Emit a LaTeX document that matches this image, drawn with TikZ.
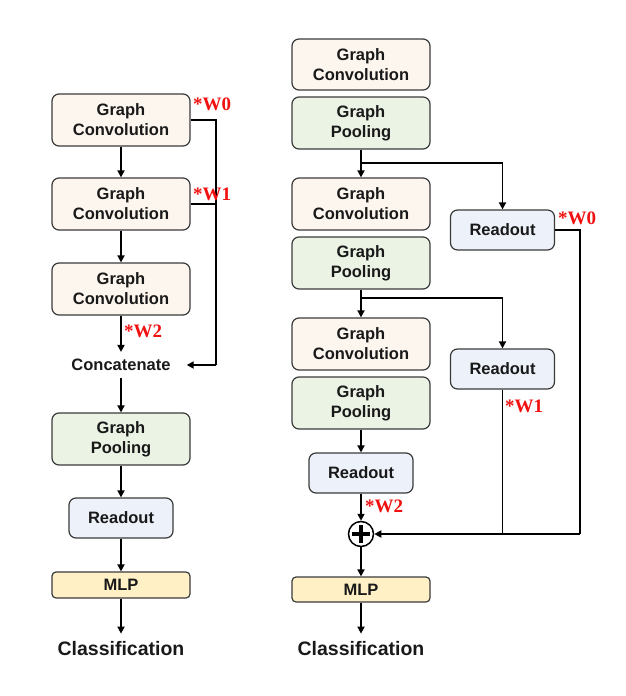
\documentclass[tikz,border=0pt]{standalone}
\usepackage{fontspec}
\setmainfont{Liberation Sans}
\newfontfamily\wfont{Liberation Serif}
\usetikzlibrary{arrows.meta}
\definecolor{convfill}{HTML}{FDF6EF}
\definecolor{poolfill}{HTML}{EBF3E5}
\definecolor{readfill}{HTML}{EDF2FA}
\definecolor{mlpfill}{HTML}{FFF0C6}
\definecolor{edge}{HTML}{3A3A3A}
\definecolor{wred}{HTML}{F01010}
\tikzset{
  blk/.style={draw=edge, line width=1.2pt, rounded corners=7pt, align=center,
    inner sep=0pt, minimum width=138pt, minimum height=52pt,
    font=\bfseries\fontsize{16.5}{20}\selectfont, text=black!90},
  conv/.style={blk, fill=convfill},
  pool/.style={blk, fill=poolfill},
  readbox/.style={blk, fill=readfill, minimum width=104pt, minimum height=40pt},
  mlpbox/.style={blk, fill=mlpfill, minimum height=26pt, rounded corners=4pt},
  plain/.style={font=\bfseries\fontsize{16.5}{20}\selectfont, text=black!90},
  cls/.style={font=\bfseries\fontsize{19.5}{22}\selectfont, text=black!90},
  wlab/.style={font=\wfont\bfseries\fontsize{19}{22}\selectfont, text=wred, anchor=west, inner sep=0pt},
  arr/.style={-{Triangle[length=7pt,width=7pt]}, line width=1.7pt},
  ln/.style={line width=1.7pt},
  sumnode/.style={circle, draw=black, line width=1.5pt, fill=white, minimum size=25pt, inner sep=0pt}
}
\begin{document}
\begin{tikzpicture}[x=1pt,y=-1pt]
\useasboundingbox (0,0) rectangle (626,696);

% ---------- concatenation model ----------
\node[conv] (lc1) at (121,120) {Graph\\Convolution};
\node[conv] (lc2) at (121,204) {Graph\\Convolution};
\node[conv] (lc3) at (121,289) {Graph\\Convolution};
\node[plain, inner xsep=16pt, inner ysep=7pt] (cat) at (121,365) {Concatenate};
\node[pool] (lp) at (121,439) {Graph\\Pooling};
\node[readbox] (lr) at (121,518) {Readout};
\node[mlpbox] (lm) at (121,585) {MLP};
\node[cls, inner ysep=8pt] (lcls) at (121,649) {Classification};
\coordinate (lj0) at (216,120);
\coordinate (lj1) at (216,204);
\coordinate (lj2) at (216,365);

\draw[arr] (lc1) -- (lc2);
\draw[arr] (lc2) -- (lc3);
\draw[arr] (lc3) -- (cat);
\draw[arr] (cat) -- (lp);
\draw[arr] (lp) -- (lr);
\draw[arr] (lr) -- (lm);
\draw[arr] (lm) -- (lcls);
\draw[ln] (lc1.east) -- (lj0) -- (lj2);
\draw[ln] (lc2.east) -- (lj1);
\draw[arr] (lj2) -- (cat.east);

\node[wlab] at (193,104) {*W0};
\node[wlab] at (193,194) {*W1};
\node[wlab] at (124,331) {*W2};

% ---------- hierarchical readout model ----------
\node[conv, minimum height=51pt] (rc1) at (361,64.5) {Graph\\Convolution};
\node[pool] (rp1) at (361,123) {Graph\\Pooling};
\node[conv] (rc2) at (361,204) {Graph\\Convolution};
\node[pool] (rp2) at (361,263) {Graph\\Pooling};
\node[conv] (rc3) at (361,344) {Graph\\Convolution};
\node[pool] (rp3) at (361,403) {Graph\\Pooling};
\node[readbox] (rr3) at (361,473) {Readout};
\node[sumnode] (sum) at (361,534) {};
\node[mlpbox, minimum height=25pt] (rm) at (361,589.5) {MLP};
\node[cls, inner ysep=8pt] (rcls) at (361,649) {Classification};
\node[readbox] (rr1) at (502.5,230) {Readout};
\node[readbox] (rr2) at (502.5,369) {Readout};
\draw[line width=3.6pt] ([xshift=-9pt]sum.center) -- ([xshift=9pt]sum.center)
  ([yshift=-9pt]sum.center) -- ([yshift=9pt]sum.center);

\coordinate (b1) at (361,163);
\coordinate (b2) at (361,298);
\coordinate (s1) at (580,230);
\coordinate (s2) at (580,534);
\coordinate (s3) at (502.5,534);

\draw[arr] (rp1) -- (rc2);
\draw[arr] (rp2) -- (rc3);
\draw[arr] (rp3) -- (rr3);
\draw[arr] (rr3) -- (sum);
\draw[arr] (sum) -- (rm);
\draw[arr] (rm) -- (rcls);
\draw[arr] (b1) -| (rr1.north);
\draw[arr] (b2) -| (rr2.north);
\draw[ln] (rr1.east) -- (s1) -- (s2);
\draw[ln] (rr2.south) -- (s3);
\draw[arr] (s2) -- (sum.east);

\node[wlab] at (558,218) {*W0};
\node[wlab] at (505,406) {*W1};
\node[wlab] at (365,506) {*W2};
\end{tikzpicture}
\end{document}
